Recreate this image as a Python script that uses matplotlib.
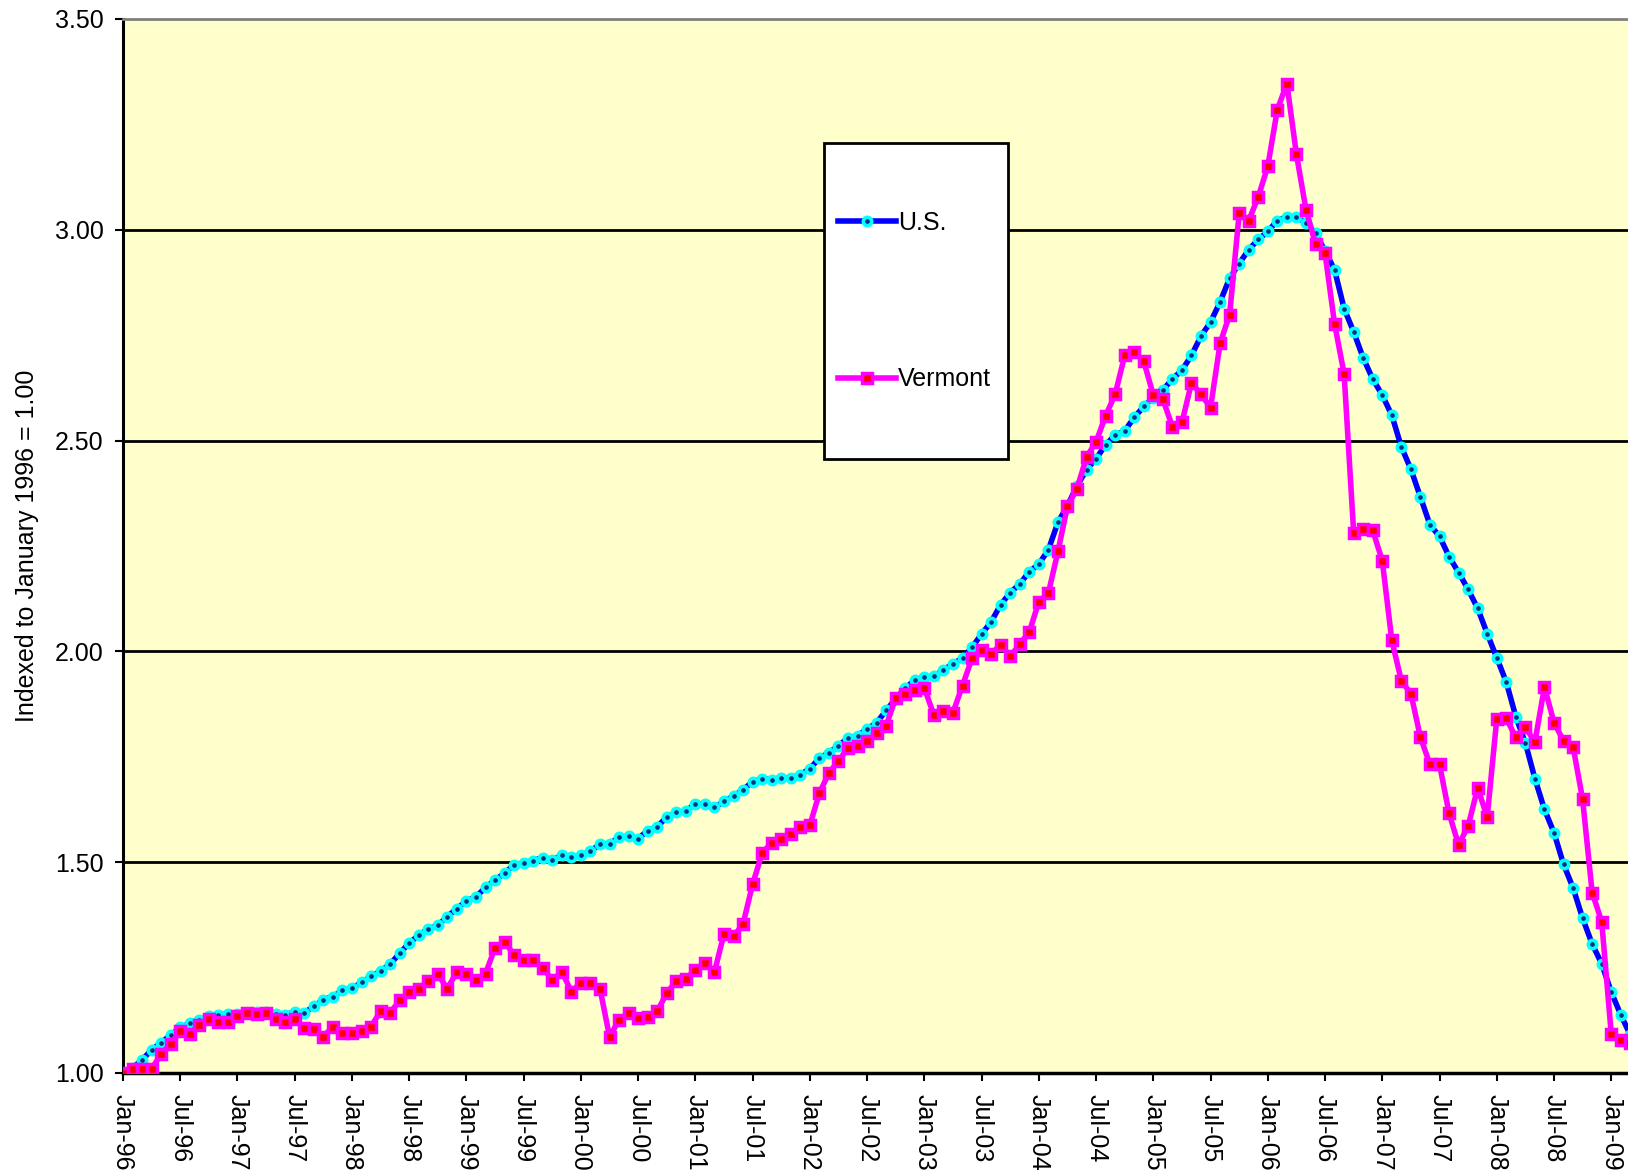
import numpy as np
import pandas as pd
import matplotlib.pyplot as plt
from matplotlib.patches import Rectangle

plt.rcParams['font.family'] = ['Liberation Sans', 'DejaVu Sans']

# monthly index values, Jan-96 = 1.00
us = [1.000, 1.012, 1.031, 1.055, 1.072, 1.090, 1.108, 1.118, 1.126, 1.135, 1.138, 1.140,
      1.140, 1.142, 1.144, 1.145, 1.141, 1.138, 1.145, 1.143, 1.158, 1.174, 1.181, 1.196,
      1.201, 1.215, 1.229, 1.242, 1.258, 1.284, 1.308, 1.327, 1.342, 1.350, 1.371, 1.390,
      1.408, 1.418, 1.440, 1.458, 1.474, 1.494, 1.498, 1.504, 1.511, 1.506, 1.516, 1.512,
      1.516, 1.527, 1.542, 1.544, 1.559, 1.561, 1.556, 1.575, 1.584, 1.607, 1.618, 1.621,
      1.639, 1.638, 1.630, 1.644, 1.657, 1.672, 1.691, 1.698, 1.696, 1.700, 1.700, 1.708,
      1.722, 1.747, 1.760, 1.776, 1.795, 1.800, 1.816, 1.831, 1.860, 1.888, 1.913, 1.932,
      1.939, 1.941, 1.956, 1.971, 1.984, 2.010, 2.041, 2.070, 2.111, 2.139, 2.160, 2.189,
      2.207, 2.241, 2.306, 2.346, 2.392, 2.431, 2.457, 2.490, 2.513, 2.523, 2.555, 2.581,
      2.602, 2.620, 2.646, 2.667, 2.702, 2.748, 2.781, 2.829, 2.885, 2.920, 2.953, 2.977,
      2.996, 3.022, 3.031, 3.031, 3.016, 2.992, 2.950, 2.905, 2.813, 2.758, 2.696, 2.646,
      2.608, 2.560, 2.485, 2.432, 2.366, 2.300, 2.273, 2.225, 2.187, 2.147, 2.102, 2.042,
      1.985, 1.927, 1.845, 1.783, 1.698, 1.625, 1.570, 1.495, 1.439, 1.367, 1.306, 1.259,
      1.192, 1.138, 1.090]

vermont = [1.000, 1.010, 1.010, 1.010, 1.045, 1.069, 1.100, 1.092, 1.115, 1.129, 1.121, 1.121,
           1.136, 1.143, 1.140, 1.143, 1.129, 1.121, 1.129, 1.107, 1.105, 1.086, 1.110, 1.096,
           1.095, 1.100, 1.110, 1.147, 1.143, 1.172, 1.193, 1.200, 1.219, 1.234, 1.200, 1.240,
           1.234, 1.220, 1.236, 1.297, 1.311, 1.280, 1.268, 1.268, 1.248, 1.221, 1.240, 1.193,
           1.214, 1.214, 1.200, 1.086, 1.126, 1.143, 1.131, 1.132, 1.146, 1.190, 1.218, 1.224,
           1.244, 1.262, 1.240, 1.330, 1.324, 1.354, 1.448, 1.522, 1.546, 1.556, 1.568, 1.584,
           1.588, 1.664, 1.712, 1.740, 1.772, 1.776, 1.788, 1.806, 1.824, 1.890, 1.900, 1.909,
           1.913, 1.849, 1.859, 1.855, 1.919, 1.984, 2.004, 1.994, 2.016, 1.988, 2.017, 2.046,
           2.118, 2.138, 2.237, 2.344, 2.386, 2.461, 2.497, 2.559, 2.610, 2.702, 2.710, 2.688,
           2.608, 2.598, 2.533, 2.543, 2.637, 2.610, 2.578, 2.731, 2.799, 3.039, 3.022, 3.078,
           3.151, 3.285, 3.347, 3.179, 3.048, 2.967, 2.944, 2.777, 2.658, 2.282, 2.290, 2.287,
           2.215, 2.026, 1.930, 1.900, 1.796, 1.732, 1.732, 1.616, 1.541, 1.586, 1.676, 1.607,
           1.840, 1.841, 1.796, 1.820, 1.785, 1.916, 1.831, 1.788, 1.774, 1.649, 1.428, 1.359,
           1.093, 1.078, 1.070]

months = pd.date_range('1996-01-01', periods=len(us), freq='MS')
tick_idx = np.arange(0, len(us), 6)
tick_labels = months[tick_idx].strftime('%b-%y')
y_ticks = [1.0, 1.5, 2.0, 2.5, 3.0, 3.5]

W, H = 1628, 1175
fig = plt.figure(figsize=(W / 100, H / 100), dpi=100)
ax = fig.add_axes([123 / W, 1 - 1073 / H, 1 - 123 / W, (1073 - 19) / H])
ax.set_facecolor('#FFFFCC')

x = np.arange(len(us))
ax.set_xlim(0, (W - 123) / 9.54)
ax.set_ylim(1.0, 3.5)

for yv in y_ticks[1:-1]:
    ax.axhline(yv, color='black', lw=2, zorder=1)

us_style = dict(color='#0000FF', lw=4, marker='o', ms=6, mfc='#003080',
                mec='#00FFFF', mew=2.6)
vt_style = dict(color='#FF00FF', lw=4, marker='s', ms=7, mfc='#FF0000',
                mec='#FF00FF', mew=2.5)
ax.plot(x, us, zorder=3, **us_style)
ax.plot(x, vermont, zorder=4, **vt_style)

ax.spines['right'].set_visible(False)
ax.spines['top'].set_color('#808080')
ax.spines['top'].set_linewidth(2)
ax.spines['left'].set_linewidth(2.2)
ax.spines['bottom'].set_linewidth(2.5)

ax.set_yticks(y_ticks)
ax.set_yticklabels(['%.2f' % v for v in y_ticks])
ax.set_xticks(tick_idx)
ax.set_xticklabels(tick_labels, rotation=-90)
ax.tick_params(axis='both', direction='out', length=6, width=1.5, labelsize=18)
ax.tick_params(axis='y', pad=8)
ax.tick_params(axis='x', pad=9)

ax.set_ylabel('Indexed to January 1996 = 1.00', fontsize=18)
ax.yaxis.set_label_coords(-0.0558, 0.5)

# legend box
fig.patches.append(Rectangle((824 / W, 1 - 459 / H), 184 / W, 316 / H,
                             transform=fig.transFigure, facecolor='white',
                             edgecolor='black', lw=2, zorder=1))
h_us = plt.Line2D([], [], **us_style)
h_vt = plt.Line2D([], [], **vt_style)
fig.legend([h_us, h_vt], ['U.S.', 'Vermont'], loc='center left',
           bbox_to_anchor=(838 / W, 1 - 301 / H), frameon=False, fontsize=18,
           handlelength=2.3, handletextpad=0.1, labelspacing=5.3,
           borderpad=0, borderaxespad=0, numpoints=1)

fig.savefig('out.png', dpi=100, facecolor='white')
